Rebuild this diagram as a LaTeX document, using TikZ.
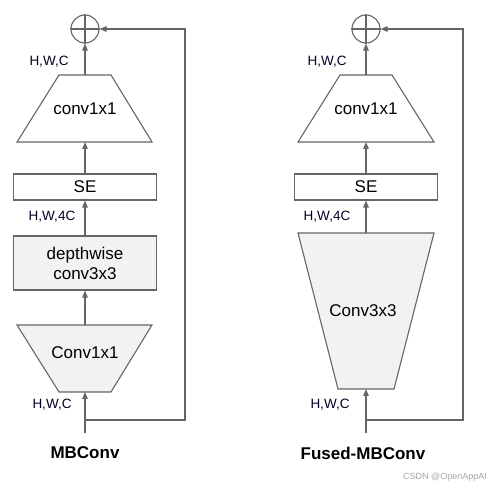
\documentclass[tikz,border=0pt]{standalone}
\usepackage{fontspec}
\setmainfont{Liberation Sans}
\usetikzlibrary{arrows.meta}
\definecolor{ln}{HTML}{666666}
\definecolor{fillg}{HTML}{F2F2F2}
\begin{document}
\begin{tikzpicture}[x=1pt,y=-1pt,
  line width=1.2pt,
  conn/.style={draw=ln,-{Triangle[length=7pt,width=5.5pt]}},
  shp/.style={draw=ln,line width=1.1pt},
  lbl/.style={font=\fontsize{17}{20}\selectfont,align=center,inner sep=0},
  dim/.style={font=\fontsize{13.5}{15}\selectfont,inner sep=0,text=black!85!blue},
  ttl/.style={font=\fontsize{17}{20}\selectfont\bfseries,inner sep=0},
  addnode/.style={circle,draw=ln,line width=1.1pt,minimum size=28pt,inner sep=0}]
\useasboundingbox (0,0) rectangle (491,489);
\fill[white] (0,0) rectangle (491,489);

% ---------------- left: MBConv ----------------
\node[addnode] (addL) at (85,29) {};
\draw[ln,line width=1.1pt] (addL.north) -- (addL.south) (addL.west) -- (addL.east);

% conv1x1 (top trapezoid, expanding downwards)
\coordinate (tL1t) at (85,75);
\coordinate (tL1b) at (85,142);
\draw[shp,fill=white] (59,75) -- (111,75) -- (152,142) -- (17,142) -- cycle;
\node[lbl] (tL1) at (85,109) {conv1x1};

% SE
\node[shp,fill=white,minimum width=143pt,minimum height=26pt,inner sep=0,lbl] (seL) at (85,187) {SE};

% depthwise
\node[shp,fill=fillg,minimum width=143pt,minimum height=54pt,inner sep=0,lbl] (dwL) at (85,263) {depthwise\\conv3x3};

% Conv1x1 (bottom trapezoid)
\coordinate (bL1t) at (85,325);
\coordinate (bL1b) at (85,392);
\draw[shp,fill=fillg] (17,325) -- (152,325) -- (111,392) -- (59,392) -- cycle;
\node[lbl] (bL1) at (85,353) {Conv1x1};

% connectors
\coordinate (inL) at (85,433);
\coordinate (skL1) at (185,420);
\coordinate (skL2) at (185,29);
\coordinate (brL) at (85,420);
\draw[conn] (inL) -- (bL1b);
\draw[conn] (bL1t) -- (dwL.south);
\draw[conn] (dwL.north) -- (seL.south);
\draw[conn] (seL.north) -- (tL1b);
\draw[conn] (tL1t) -- (addL.south);
\draw[conn] (brL) -- (skL1) -- (skL2) -- (addL.east);

\node[dim] (dL1) at (52,405) {H,W,C};
\node[dim] (dL2) at (52,217) {H,W,4C};
\node[dim] (dL3) at (49,62) {H,W,C};
\node[ttl] (tiL) at (85,453) {MBConv};

% ---------------- right: Fused-MBConv ----------------
\node[addnode] (addR) at (366,29) {};
\draw[ln,line width=1.1pt] (addR.north) -- (addR.south) (addR.west) -- (addR.east);

\coordinate (tR1t) at (366,75);
\coordinate (tR1b) at (366,142);
\draw[shp,fill=white] (340,75) -- (392,75) -- (434,142) -- (298,142) -- cycle;
\node[lbl] (tR1) at (366,109) {conv1x1};

\node[shp,fill=white,minimum width=143pt,minimum height=26pt,inner sep=0,lbl] (seR) at (366,187) {SE};

\coordinate (fR1t) at (366,233);
\coordinate (fR1b) at (366,389);
\draw[shp,fill=fillg] (298,233) -- (434,233) -- (394,389) -- (338,389) -- cycle;
\node[lbl] (fR1) at (363,311) {Conv3x3};

\coordinate (inR) at (366,433);
\coordinate (skR1) at (463,420);
\coordinate (skR2) at (463,29);
\coordinate (brR) at (366,420);
\draw[conn] (inR) -- (fR1b);
\draw[conn] (fR1t) -- (seR.south);
\draw[conn] (seR.north) -- (tR1b);
\draw[conn] (tR1t) -- (addR.south);
\draw[conn] (brR) -- (skR1) -- (skR2) -- (addR.east);

\node[dim] (dR1) at (330,405) {H,W,C};
\node[dim] (dR2) at (327,217) {H,W,4C};
\node[dim] (dR3) at (327,62) {H,W,C};
\node[ttl] (tiR) at (363,453) {Fused-MBConv};

\node[font=\fontsize{9}{10}\selectfont,text=black!35,inner sep=0] (wm) at (445,477) {CSDN @OpenAppAI};
\end{tikzpicture}
\end{document}
